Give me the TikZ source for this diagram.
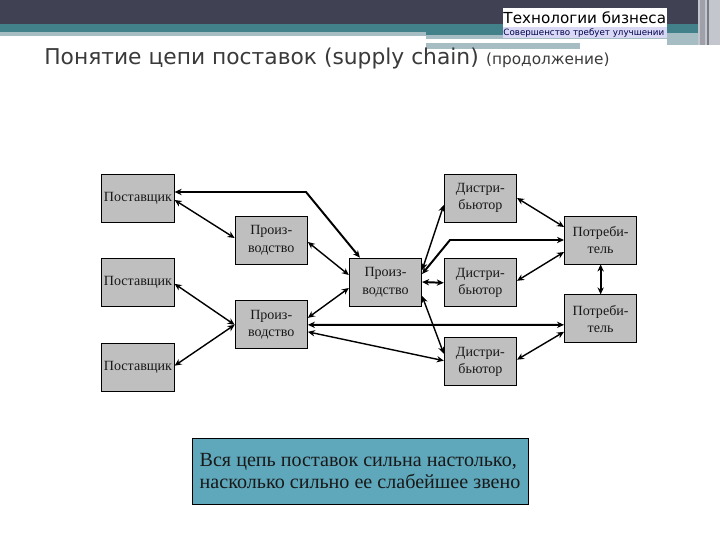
\documentclass[tikz,border=0pt]{standalone}
\usepackage{fontspec}
\setmainfont{Liberation Serif}
\setsansfont{DejaVu Sans}
\usetikzlibrary{arrows.meta,positioning}
\definecolor{hdrdark}{HTML}{404254}
\definecolor{hdrteal}{HTML}{43818A}
\definecolor{hdrpale}{HTML}{A5BDC3}
\definecolor{hdrside}{HTML}{C4C6CE}
\definecolor{logolav}{HTML}{D9D9F6}
\definecolor{boxgray}{HTML}{BFBFBF}
\definecolor{notefill}{HTML}{5FA8BC}
\definecolor{titlegray}{HTML}{3A3A3A}
\tikzset{
  chainbox/.style = {rectangle, draw=black, fill=boxgray, line width=0.6pt, inner sep=0pt,
                      minimum width=1.81cm, minimum height=1.2cm, align=center,
                      font=\fontsize{10}{12.5}\selectfont\color{black!90}},
  notebox/.style  = {rectangle, draw=black, fill=notefill, line width=0.7pt, inner sep=0pt,
                      minimum width=8.4cm, minimum height=1.65cm, align=left,
                      font=\fontsize{14.3}{16.2}\selectfont\color{black!90}},
  link/.style     = {{Stealth[length=5pt,width=4.5pt]}-{Stealth[length=5pt,width=4.5pt]}, line width=1pt},
  heavylink/.style= {{Stealth[length=5pt,width=4.5pt]}-{Stealth[length=5pt,width=4.5pt]}, line width=1.4pt},
}
\begin{document}
\begin{tikzpicture}
\useasboundingbox (0,0) rectangle (18,13.5);
% Header bands
\fill[white] (0,0) rectangle (18,13.5);
\fill[hdrdark] (0,12.9) rectangle (18,13.5);
\fill[hdrteal] (0,12.7) rectangle (18,12.9);
\fill[hdrpale] (0,12.6) rectangle (10.65,12.7);
\fill[hdrteal] (10.65,12.62) rectangle (18,12.7);
\fill[hdrpale] (10.65,12.52) rectangle (18,12.62);
\fill[hdrpale] (10.65,12.28) rectangle (14.5,12.42);
\fill[hdrpale] (16.67,12.38) rectangle (18,12.68);
\fill[hdrside] (17.45,12.38) rectangle (18,13.5);
\fill[hdrdark!50] (17.5,12.38) rectangle (17.63,13.5);
\fill[hdrdark!70] (17.68,12.38) rectangle (17.73,13.5);
% Logo
\fill[white] (12.58,12.82) rectangle (16.67,13.3);
\fill[logolav] (12.58,12.55) rectangle (16.67,12.82);
\node[font=\sffamily\fontsize{10.8}{12}\selectfont, inner sep=0pt, anchor=base west] (logo) at (12.58,12.9) {Технологии бизнеса};
\node[font=\sffamily\fontsize{6.2}{7}\selectfont\color{blue!30!black}, inner sep=0pt, anchor=base west] (slogan) at (12.58,12.62) {Совершенство требует улучшении};
% Title
\node[font=\sffamily\fontsize{15.5}{18}\selectfont\color{titlegray}, inner sep=0pt, anchor=base west] (title) at (1.1,11.88) {Понятие цепи поставок (supply chain)};
\node[font=\sffamily\fontsize{10.9}{13}\selectfont\color{titlegray}, inner sep=0pt, right=0.17cm of title.base east, anchor=base west] (titlecont) {(продолжение)};

% Suppliers
\node[chainbox] (sup1) at (3.45,8.55) {Поставщик};
\node[chainbox, below=0.9cm of sup1] (sup2) {Поставщик};
\node[chainbox, below=0.9cm of sup2] (sup3) {Поставщик};
% Production
\node[chainbox, right=1.5cm of sup1, yshift=-1.05cm] (prod1) {Произ-\\водство};
\node[chainbox, below=0.9cm of prod1] (prod2) {Произ-\\водство};
\node[chainbox, right=1.025cm of prod1, yshift=-1.05cm] (prodC) {Произ-\\водство};
% Distributors
\node[chainbox] (dis1) at (12.01,8.55) {Дистри-\\бьютор};
\node[chainbox, below=0.9cm of dis1] (dis2) {Дистри-\\бьютор};
\node[chainbox, below=0.75cm of dis2] (dis3) {Дистри-\\бьютор};
% Consumers
\node[chainbox, right=1.175cm of dis1, yshift=-1.05cm] (con1) {Потреби-\\тель};
\node[chainbox, below=0.75cm of con1] (con2) {Потреби-\\тель};
% Note
\node[notebox] (note) at (9,1.725) {Вся цепь поставок сильна настолько,\\насколько сильно ее слабейшее звено};

% Bend points
\coordinate (bendS) at (7.65,8.7);
\coordinate (bendD) at (11.25,7.5);

% Links
\draw[heavylink] ([yshift=0.15cm]sup1.east) -- (bendS) -- ([xshift=-0.64cm]prodC.north);
\draw[link] ([yshift=-0.05cm]sup1.east) -- ([yshift=0.05cm]prod1.west);
\draw[link] ([yshift=-0.05cm]prod1.east) -- ([yshift=0.175cm]prodC.west);
\draw[link] ([yshift=-0.025cm]sup2.east) -- (prod2.west);
\draw[link] ([yshift=0.05cm]sup3.east) -- (prod2.west);
\draw[link] ([yshift=0.175cm]prod2.east) -- ([yshift=-0.15cm]prodC.west);
\draw[heavylink] (prod2.east) -- ([yshift=-0.15cm]con2.west);
\draw[link] ([yshift=-0.175cm]prod2.east) -- ([yshift=0.025cm]dis3.west);
\draw[link] ([yshift=0.3cm]prodC.east) -- ([yshift=-0.175cm]dis1.west);
\draw[heavylink] ([yshift=0.2cm]prodC.east) -- (bendD) -- (con1.west);
\draw[heavylink] (prodC.east) -- (dis2.west);
\draw[link] ([yshift=-0.35cm]prodC.east) -- ([yshift=0.2cm]dis3.west);
\draw[link] (dis1.east) -- ([yshift=0.325cm]con1.west);
\draw[link] ([yshift=0.05cm]dis2.east) -- ([yshift=-0.3cm]con1.west);
\draw[link] ([yshift=0.05cm]dis3.east) -- ([yshift=-0.325cm]con2.west);
\draw[heavylink] (con1.south) -- (con2.north);
\end{tikzpicture}
\end{document}
